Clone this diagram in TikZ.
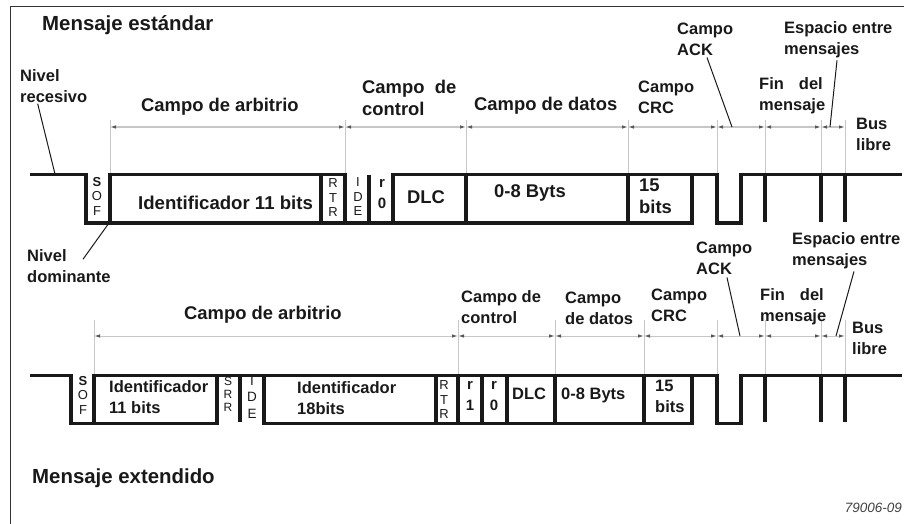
\documentclass[tikz,border=0pt]{standalone}
\usepackage{fontspec}
\setmainfont{Liberation Sans}
\usepackage{tikz}
\usetikzlibrary{arrows.meta, positioning, calc}
\definecolor{inkc}{gray}{0.1}
\tikzset{
  lbl/.style  ={anchor=west, align=left, inner sep=0pt, text=inkc, font=\bfseries\fontsize{16.5}{21}\selectfont},
  lblb/.style ={lbl, font=\bfseries\fontsize{18.4}{22}\selectfont},
  ttl/.style  ={lbl, font=\bfseries\fontsize{20.4}{24}\selectfont},
  stk/.style  ={anchor=center, align=center, inner sep=0pt, text=inkc, font=\fontsize{13}{14.5}\selectfont},
  stkb/.style ={stk, font=\bfseries\fontsize{15}{21}\selectfont},
  wave/.style ={line width=3.4pt, draw=inkc, miter limit=10},
  tickln/.style={line width=0.9pt, draw=black!22},
  dimln/.style={line width=1pt, draw=black!22, {Latex[length=6pt,width=3.5pt,color=black!65]}-{Latex[length=6pt,width=3.5pt,color=black!65]}},
  lead/.style ={line width=1pt, draw=inkc},
}
\begin{document}
\begin{tikzpicture}[x=1pt, y=-1pt]
  \useasboundingbox (0,0) rectangle (904,524);
  \draw[line width=1pt, draw=black!80] (10.5,524) -- (10.5,7) -- (904,7);
  % marks above the standard frame
  \foreach \x in {110,345,466,628,717,765,821,845}{
    \coordinate (a\x) at (\x,127);
    \draw[tickln] (\x,120) -- (\x,174);
  }
  \foreach \a/\b in {110/345,345/466,466/628,628/717,717/765,765/821,821/845}
    \draw[dimln] (a\a) -- (a\b);
  % marks above the extended frame
  \foreach \x in {94,458,555,644,717,765,821,845}{
    \coordinate (b\x) at (\x,336);
    \draw[tickln] (\x,320) -- (\x,375);
  }
  \foreach \a/\b in {94/458,458/555,555/644,644/717,717/765,765/821,821/845}
    \draw[dimln] (b\a) -- (b\b);
  % standard frame
  \draw[wave] (30,174.5) -- (86,174.5) -- (86,223) -- (692,223) -- (692,174.5) -- (393,174.5) -- (393,223);
  \draw[wave] (110,223) -- (110,174.5) -- (345,174.5) -- (345,223);
  \draw[wave] (692,174.5) -- (717,174.5) -- (717,223) -- (741,223) -- (741,174.5) -- (902,174.5);
  \foreach \x in {321,466,628}
    \draw[wave] (\x,174.5) -- (\x,223);
  \foreach \x in {369,765,821,845}
    \draw[wave] (\x,174.5) -- (\x,222);
  % extended frame
  \draw[wave] (30,375.5) -- (71,375.5) -- (71,423.5) -- (217,423.5) -- (217,375.5) -- (94,375.5) -- (94,423.5);
  \draw[wave] (217,375.5) -- (717,375.5) -- (717,423.5) -- (741,423.5) -- (741,375.5) -- (902,375.5);
  \draw[wave] (264,375.5) -- (264,423.5) -- (692,423.5) -- (692,375.5);
  \foreach \x in {436,458,482,507,555,644}
    \draw[wave] (\x,375.5) -- (\x,423.5);
  \foreach \x in {240,765,821,845}
    \draw[wave] (\x,375.5) -- (\x,422);
  % standard labels
  \node[ttl] (tstd) at (42,25) {Mensaje estándar};
  \node[lbl] (lrec) at (20,86) {Nivel\\recesivo};
  \node[lbl] (ldom) at (27,266) {Nivel\\dominante};
  \node[lblb] (arb1) at (141,107) {Campo de arbitrio};
  \node[lblb] (ctl1) at (362,98) {Campo\ \ de\\control};
  \node[lblb] (dat1) at (474,106) {Campo de datos};
  \node[lbl] (crc1) at (638,97) {Campo\\CRC};
  \node[lbl] (ack1) at (677,39) {Campo\\ACK};
  \node[lbl] (fin1) at (759,96) {Fin\hspace{15pt}del\\mensaje};
  \node[lbl] (esp1) at (784,40) {Espacio entre\\mensajes};
  \node[lbl] (bus1) at (856,134) {Bus\\libre};
  \node[stk] (sof1) at (97,196) {\textbf{S}\\O\\F};
  \node[lblb, font=\bfseries\fontsize{18.6}{22}\selectfont] (idn1) at (138,203) {Identificador 11 bits};
  \node[stk] (rtr1) at (333,198) {R\\T\\R};
  \node[stk] (ide1) at (358,197) {I\\D\\E};
  \node[stkb] (rcr1) at (382,194) {r\\0};
  \node[lblb] (dlc1) at (407,197) {DLC};
  \node[lblb] (byt1) at (494,193) {0-8 Byts};
  \node[lblb] (bit1) at (639,196) {15\\bits};
  % extended labels
  \node[lblb] (arb2) at (184,315) {Campo de arbitrio};
  \node[lbl] (ctl2) at (461,307) {Campo de\\control};
  \node[lbl] (dat2) at (565,308) {Campo\\de datos};
  \node[lbl] (crc2) at (651,305) {Campo\\CRC};
  \node[lbl] (ack2) at (696,258) {Campo\\ACK};
  \node[lbl] (fin2) at (760,307) {Fin\hspace{15pt}del\\mensaje};
  \node[lbl] (esp2) at (792,251) {Espacio entre\\mensajes};
  \node[lbl] (bus2) at (852,338) {Bus\\libre};
  \node[stk] (sof2) at (83,395) {\textbf{S}\\O\\F};
  \node[lbl] (idn2) at (109,397) {Identificador\\11 bits};
  \node[stk, font=\fontsize{12}{13}\selectfont] (srr2) at (228,394) {S\\R\\R};
  \node[stk, font=\fontsize{13.5}{16.5}\selectfont] (ide2) at (252,397) {I\\D\\E};
  \node[lbl] (idm2) at (297,398) {Identificador\\18bits};
  \node[stk] (rtr2) at (444,400) {R\\T\\R};
  \node[stkb] (rcr2) at (470,396) {r\\1};
  \node[stkb] (rcs2) at (494,396) {r\\0};
  \node[lbl] (dlc2) at (512,394) {DLC};
  \node[lbl] (byt2) at (561,395) {0-8 Byts};
  \node[lbl] (bit2) at (655,396) {15\\bits};
  \node[ttl] (text) at (32,478) {Mensaje extendido};
  \node[anchor=east, inner sep=0pt, text=black!75, font=\itshape\fontsize{13.5}{16}\selectfont] (code) at (902,508) {79006-09};
  % leaders
  \coordinate (prec) at (55,174);
  \coordinate (pdom) at (109,223);
  \draw[lead] ([xshift=-16pt,yshift=-1pt]lrec.south) -- (prec);
  \draw[lead] ([xshift=56pt,yshift=-10pt]ldom.north west) -- (pdom);
  \draw[lead] ([xshift=30pt,yshift=-2pt]ack1.south west) -- ([xshift=15pt]a717);
  \draw[lead] ([xshift=53pt,yshift=-2pt]esp1.south west) -- ([xshift=9pt]a821);
  \draw[lead] ([xshift=31pt,yshift=-3pt]ack2.south west) -- ([xshift=23pt]b717);
  \draw[lead] ([xshift=62pt,yshift=-2pt]esp2.south west) -- ([xshift=15pt]b821);
\end{tikzpicture}
\end{document}
